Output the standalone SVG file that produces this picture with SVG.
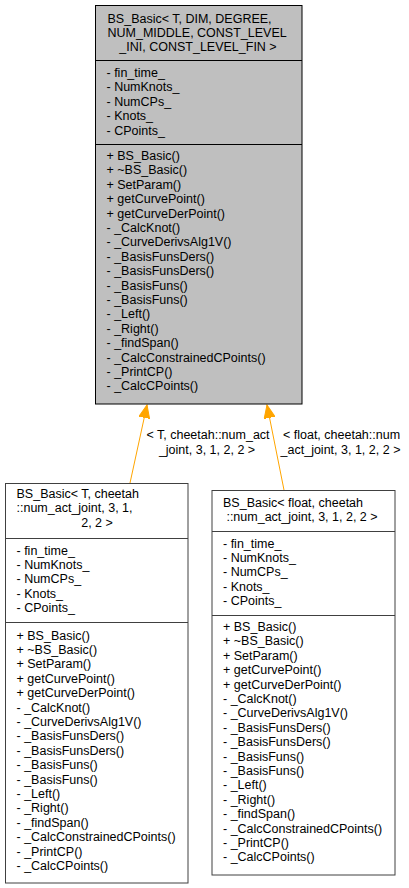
<svg xmlns="http://www.w3.org/2000/svg" width="409" height="888" viewBox="0 0 409 888">
<style>
text{font-family:"Liberation Sans",Arial,sans-serif;font-size:12.5px;fill:#000}
.c{text-anchor:middle}
.base{fill:#bfbfbf;stroke:#000;stroke-width:1}
.kid{fill:#fff;stroke:#404040;stroke-width:1}
.div{stroke:#000;stroke-width:1}
.kdiv{stroke:#404040;stroke-width:1}
.edge{stroke:#ffa500;stroke-width:1;fill:none;marker-end:url(#ah)}
</style>
<defs>
<marker id="ah" markerUnits="userSpaceOnUse" markerWidth="14" markerHeight="12" viewBox="0 -6 14 12" refX="13" refY="0" orient="auto">
<path d="M0,-5.5 L13,0 L0,5.5 z" fill="#ffa500" stroke="#ffa500"/>
</marker>
</defs>
<rect width="409" height="888" fill="#fff"/>
<g id="connectors">
<line class="edge" x1="130" y1="483" x2="147" y2="405"/>
<line class="edge" x1="284" y1="490" x2="267" y2="405"/>
<text class="c" x="208" y="439">&lt; T, cheetah::num_act</text>
<text class="c" x="207" y="453.5">_joint, 3, 1, 2, 2 &gt;</text>
<text class="c" x="341.5" y="439">&lt; float, cheetah::num</text>
<text class="c" x="340.5" y="453.5">_act_joint, 3, 1, 2, 2 &gt;</text>
</g>
<g id="node-base">
<rect class="base" x="95.5" y="5.5" width="206.5" height="398.5"/>
<line class="div" x1="95.5" y1="60.5" x2="302" y2="60.5"/>
<line class="div" x1="95.5" y1="144.5" x2="302" y2="144.5"/>
<text x="107.5" y="22.5">BS_Basic&lt; T, DIM, DEGREE,</text>
<text x="107.5" y="36.9">NUM_MIDDLE, CONST_LEVEL</text>
<text class="c" x="198" y="51.3">_INI, CONST_LEVEL_FIN &gt;</text>
<text x="106.5" y="77">- fin_time_</text>
<text x="106.5" y="91.4">- NumKnots_</text>
<text x="106.5" y="105.8">- NumCPs_</text>
<text x="106.5" y="120.2">- Knots_</text>
<text x="106.5" y="134.6">- CPoints_</text>
<text x="106.5" y="160">+ BS_Basic()</text>
<text x="106.5" y="174.4">+ ~BS_Basic()</text>
<text x="106.5" y="188.8">+ SetParam()</text>
<text x="106.5" y="203.2">+ getCurvePoint()</text>
<text x="106.5" y="217.6">+ getCurveDerPoint()</text>
<text x="106.5" y="232">- _CalcKnot()</text>
<text x="106.5" y="246.4">- _CurveDerivsAlg1V()</text>
<text x="106.5" y="260.8">- _BasisFunsDers()</text>
<text x="106.5" y="275.2">- _BasisFunsDers()</text>
<text x="106.5" y="289.6">- _BasisFuns()</text>
<text x="106.5" y="304">- _BasisFuns()</text>
<text x="106.5" y="318.4">- _Left()</text>
<text x="106.5" y="332.8">- _Right()</text>
<text x="106.5" y="347.2">- _findSpan()</text>
<text x="106.5" y="361.6">- _CalcConstrainedCPoints()</text>
<text x="106.5" y="376">- _PrintCP()</text>
<text x="106.5" y="390.4">- _CalcCPoints()</text>
</g>
<g id="node-T">
<rect class="kid" x="5.5" y="483.5" width="182.5" height="399.5"/>
<line class="kdiv" x1="5.5" y1="538.5" x2="188" y2="538.5"/>
<line class="kdiv" x1="5.5" y1="622.5" x2="188" y2="622.5"/>
<text x="16.5" y="498">BS_Basic&lt; T, cheetah</text>
<text x="16.5" y="512.4">::num_act_joint, 3, 1,</text>
<text class="c" x="97" y="526.8">2, 2 &gt;</text>
<text x="16.5" y="554.5">- fin_time_</text>
<text x="16.5" y="568.9">- NumKnots_</text>
<text x="16.5" y="583.3">- NumCPs_</text>
<text x="16.5" y="597.7">- Knots_</text>
<text x="16.5" y="612.1">- CPoints_</text>
<text x="16.5" y="639.5">+ BS_Basic()</text>
<text x="16.5" y="653.9">+ ~BS_Basic()</text>
<text x="16.5" y="668.3">+ SetParam()</text>
<text x="16.5" y="682.7">+ getCurvePoint()</text>
<text x="16.5" y="697.1">+ getCurveDerPoint()</text>
<text x="16.5" y="711.5">- _CalcKnot()</text>
<text x="16.5" y="725.9">- _CurveDerivsAlg1V()</text>
<text x="16.5" y="740.3">- _BasisFunsDers()</text>
<text x="16.5" y="754.7">- _BasisFunsDers()</text>
<text x="16.5" y="769.1">- _BasisFuns()</text>
<text x="16.5" y="783.5">- _BasisFuns()</text>
<text x="16.5" y="797.9">- _Left()</text>
<text x="16.5" y="812.3">- _Right()</text>
<text x="16.5" y="826.7">- _findSpan()</text>
<text x="16.5" y="841.1">- _CalcConstrainedCPoints()</text>
<text x="16.5" y="855.5">- _PrintCP()</text>
<text x="16.5" y="869.9">- _CalcCPoints()</text>
</g>
<g id="node-float">
<rect class="kid" x="212" y="490.5" width="183" height="384.5"/>
<line class="kdiv" x1="212" y1="531.5" x2="395" y2="531.5"/>
<line class="kdiv" x1="212" y1="615.5" x2="395" y2="615.5"/>
<text x="223" y="507">BS_Basic&lt; float, cheetah</text>
<text class="c" x="302" y="521.4">::num_act_joint, 3, 1, 2, 2 &gt;</text>
<text x="223" y="547.5">- fin_time_</text>
<text x="223" y="561.9">- NumKnots_</text>
<text x="223" y="576.3">- NumCPs_</text>
<text x="223" y="590.7">- Knots_</text>
<text x="223" y="605.1">- CPoints_</text>
<text x="223" y="631">+ BS_Basic()</text>
<text x="223" y="645.4">+ ~BS_Basic()</text>
<text x="223" y="659.8">+ SetParam()</text>
<text x="223" y="674.2">+ getCurvePoint()</text>
<text x="223" y="688.6">+ getCurveDerPoint()</text>
<text x="223" y="703">- _CalcKnot()</text>
<text x="223" y="717.4">- _CurveDerivsAlg1V()</text>
<text x="223" y="731.8">- _BasisFunsDers()</text>
<text x="223" y="746.2">- _BasisFunsDers()</text>
<text x="223" y="760.6">- _BasisFuns()</text>
<text x="223" y="775">- _BasisFuns()</text>
<text x="223" y="789.4">- _Left()</text>
<text x="223" y="803.8">- _Right()</text>
<text x="223" y="818.2">- _findSpan()</text>
<text x="223" y="832.6">- _CalcConstrainedCPoints()</text>
<text x="223" y="847">- _PrintCP()</text>
<text x="223" y="861.4">- _CalcCPoints()</text>
</g>
</svg>
